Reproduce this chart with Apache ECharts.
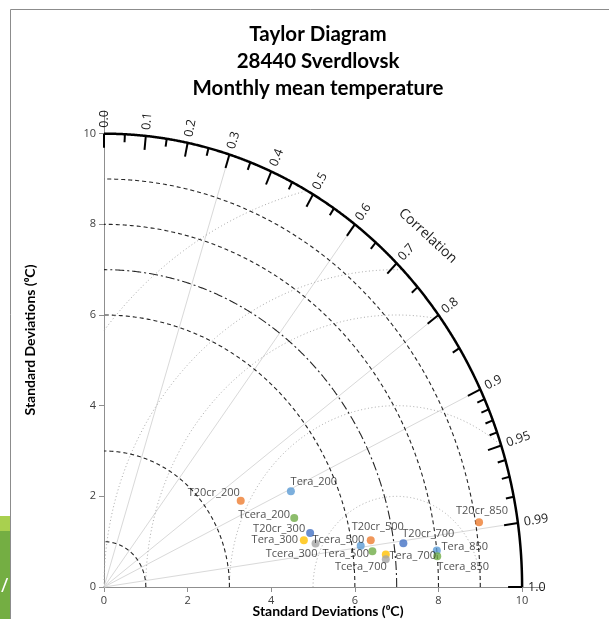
<!DOCTYPE html>
<html><head><meta charset="utf-8">
<script src="https://cdn.jsdelivr.net/npm/echarts@6/dist/echarts.min.js"></script>
<style>html,body{margin:0;padding:0;background:#fff}#c{width:609px;height:619px}</style>
</head><body><div id="c"></div>
<script>
// ---- data ----
const titleLines = ['Taylor Diagram', '28440 Sverdlovsk', 'Monthly mean temperature'];
const xAxisTitle = 'Standard Deviations (\u2070C)';
const yAxisTitle = 'Standard Deviations (\u2070C)';
const corrTitle = 'Correlation';
const axisTickValues = [0, 2, 4, 6, 8, 10];
const pointNames = ['T20cr_200','Tera_200','Tcera_200','T20cr_300','Tera_300','Tcera_300',
  'T20cr_500','Tera_500','Tcera_500','T20cr_700','Tera_700','Tcera_700','T20cr_850','Tera_850','Tcera_850'];
const pointStd  = [3.782, 4.943, 4.797, 5.072, 4.890, 5.150, 6.463, 6.207, 6.468, 7.225, 6.778, 6.768, 9.083, 8.001, 7.999];
const pointCorr = [0.8646, 0.9043, 0.9485, 0.9720, 0.9775, 0.9825, 0.9872, 0.9892, 0.9925, 0.9910, 0.9944, 0.9959, 0.9876, 0.9949, 0.9964];
const refStd = 7;
const maxStd = 10;
const stdArcs = [1, 3, 6, 7, 8, 9];
const rmsArcs = [2, 4, 6, 7, 9];
const radialCorr = [0.3, 0.6, 0.8, 0.9, 0.99];
const corrMajor = [0.0, 0.1, 0.2, 0.3, 0.4, 0.5, 0.6, 0.7, 0.8, 0.9, 0.95, 0.99, 1.0];
const corrMinor = [0.05, 0.15, 0.25, 0.35, 0.45, 0.55, 0.65, 0.75, 0.85, 0.91, 0.92, 0.93, 0.94, 0.96, 0.97, 0.98];
const corrLabelText = ['0.0','0.1','0.2','0.3','0.4','0.5','0.6','0.7','0.8','0.9','0.95','0.99','1.0'];

// ---- styles / layout (not data) ----
const pointColors = ['#ED7D31','#5B9BD5','#70AD47','#4472C4','#FFC000','#A5A5A5',
  '#ED7D31','#5B9BD5','#70AD47','#4472C4','#FFC000','#A5A5A5','#ED7D31','#5B9BD5','#70AD47'];
const labelOffsets = [[-27,-8],[23,-9],[-30,-3],[-31,-4],[-29,0],[-24,10],[7,-13],[-15,8],[-34,-11],
  [25,-9],[27,1],[-25,8],[3,-11],[28,-4],[26,11]];
const stdArcDash = {1:[4,3], 3:[4,3], 6:[4,3], 7:[9,3,2,3], 8:[4,3], 9:[4,3]};
const FONT = 'Open Sans';

const chart = echarts.init(document.getElementById('c'), null, {renderer: 'canvas'});

function renderFrame(params, api) {
  const O = api.coord([0, 0]);
  const P = (x, y) => api.coord([x, y]);
  const ch = [];
  radialCorr.forEach(c => {
    const p = P(maxStd * c, maxStd * Math.sqrt(1 - c * c));
    ch.push({type: 'line', shape: {x1: O[0], y1: O[1], x2: p[0], y2: p[1]}, style: {stroke: '#d9d9d9', lineWidth: 1}});
  });
  rmsArcs.forEach(R => {
    const pts = [];
    for (let i = 720; i >= 0; i--) {
      const phi = Math.PI * i / 720;
      const x = refStd + R * Math.cos(phi), y = R * Math.sin(phi);
      if (x >= 0 && x * x + y * y <= maxStd * maxStd) pts.push(P(x, y));
    }
    ch.push({type: 'polyline', shape: {points: pts}, style: {stroke: '#a8a8a8', lineWidth: 1, lineDash: [1, 2.5], fill: null}});
  });
  stdArcs.forEach(r => {
    const pts = [];
    for (let i = 0; i <= 360; i++) {
      const t = Math.PI / 2 * i / 360;
      pts.push(P(r * Math.cos(t), r * Math.sin(t)));
    }
    ch.push({type: 'polyline', shape: {points: pts}, style: {stroke: '#262626', lineWidth: 1.1, lineDash: stdArcDash[r], fill: null}});
  });
  const outer = [];
  for (let i = 0; i <= 720; i++) {
    const t = Math.PI / 2 * i / 720;
    outer.push(P(maxStd * Math.cos(t), maxStd * Math.sin(t)));
  }
  ch.push({type: 'polyline', shape: {points: outer}, style: {stroke: '#000', lineWidth: 2.5, fill: null}});
  function tick(c, L) {
    const p = P(maxStd * c, maxStd * Math.sqrt(Math.max(0, 1 - c * c)));
    const dx = p[0] - O[0], dy = p[1] - O[1], d = Math.hypot(dx, dy);
    const ux = dx / d, uy = dy / d;
    ch.push({type: 'line', shape: {x1: p[0], y1: p[1], x2: p[0] - ux * L, y2: p[1] - uy * L}, style: {stroke: '#000', lineWidth: 2}});
    return {p, ux, uy};
  }
  corrMinor.forEach(c => tick(c, 8));
  corrMajor.forEach((c, i) => {
    const t = tick(c, 14);
    const gap = 6;
    ch.push({type: 'text', x: t.p[0] + t.ux * gap, y: t.p[1] + t.uy * gap,
      rotation: Math.atan2(-t.uy, t.ux),
      style: {text: corrLabelText[i], x: 0, y: 0, align: 'left', verticalAlign: 'middle',
        fill: '#1a1a1a', font: '12.5px "' + FONT + '"'}});
  });
  const cc = Math.SQRT1_2, rr = 10.95;
  const q = P(rr * cc, rr * cc);
  const ang = Math.atan2(O[1] - q[1], q[0] - O[0]);
  ch.push({type: 'text', x: q[0], y: q[1], rotation: ang - Math.PI / 2,
    style: {text: corrTitle, x: 0, y: 0, align: 'center', verticalAlign: 'middle', fill: '#1a1a1a', font: '14px "' + FONT + '"'}});
  return {type: 'group', children: ch};
}

const pts = pointStd.map((s, i) => {
  const c = pointCorr[i];
  return {
    name: pointNames[i],
    value: [s * c, s * Math.sqrt(1 - c * c)],
    itemStyle: {color: pointColors[i]},
    label: {offset: labelOffsets[i]}
  };
});

const axisCommon = {
  type: 'value', min: 0, max: 10.5, interval: 2,
  axisLine: {show: true, lineStyle: {color: '#8f8f8f', width: 1}},
  axisTick: {show: true, inside: false, length: 5, lineStyle: {color: '#8f8f8f'}, customValues: axisTickValues},
  axisLabel: {color: '#404040', fontSize: 11, fontFamily: FONT, customValues: axisTickValues, margin: 8},
  splitLine: {show: false}
};

const TF = 'bold 20.5px Lato';
const AF = 'bold 14px Lato';
chart.setOption({
  animation: false,
  backgroundColor: '#fff',
  grid: {left: 104, top: 111, width: 439, height: 476, containLabel: false},
  xAxis: Object.assign({}, axisCommon),
  yAxis: Object.assign({}, axisCommon),
  graphic: [
    {type: 'rect', z: -10, shape: {x: 10.5, y: 9.5, width: 700, height: 700}, style: {fill: null, stroke: '#8c8c8c', lineWidth: 1}},
    {type: 'rect', shape: {x: 0, y: 516, width: 10, height: 15}, style: {fill: '#A9D04F'}},
    {type: 'rect', shape: {x: 0, y: 531, width: 10, height: 88}, style: {fill: '#74AE43'}},
    {type: 'text', x: 1, y: 586, style: {text: '/', fill: '#fff', font: '20px "' + FONT + '"', verticalAlign: 'middle'}},
    {type: 'text', x: 318, y: 34, style: {text: titleLines[0], align: 'center', verticalAlign: 'middle', fill: '#000', font: TF}},
    {type: 'text', x: 318, y: 61, style: {text: titleLines[1], align: 'center', verticalAlign: 'middle', fill: '#000', font: TF}},
    {type: 'text', x: 318, y: 88, style: {text: titleLines[2], align: 'center', verticalAlign: 'middle', fill: '#000', font: TF}},
    {type: 'text', x: 328, y: 611, style: {text: xAxisTitle, align: 'center', verticalAlign: 'middle', fill: '#000', font: AF}},
    {type: 'text', x: 30, y: 340, rotation: Math.PI / 2, style: {text: yAxisTitle, align: 'center', verticalAlign: 'middle', fill: '#000', font: AF}}
  ],
  series: [
    {type: 'custom', coordinateSystem: 'cartesian2d', renderItem: renderFrame, data: [[0, 0]], clip: false, silent: true, z: 1},
    {type: 'scatter', z: 5, symbol: 'circle', symbolSize: 8, data: pts,
      label: {show: true, position: 'inside', formatter: '{b}', color: '#1f1f1f', fontSize: 11, fontFamily: FONT}}
  ]
});
</script></body></html>
